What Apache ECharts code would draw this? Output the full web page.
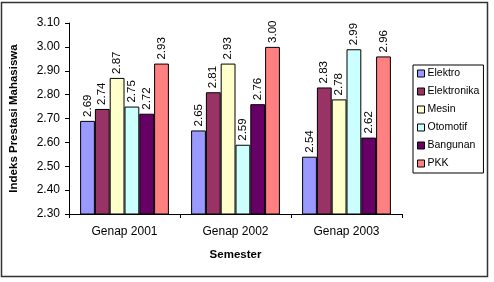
<!DOCTYPE html>
<html>
<head>
<meta charset="utf-8">
<script src="https://cdn.jsdelivr.net/npm/echarts@6/dist/echarts.min.js"></script>
<style>
  html, body { margin: 0; padding: 0; background: #fff; }
  #chart { width: 494px; height: 282px; }
</style>
</head>
<body>
<div id="chart"></div>
<script>
var semesters = ['Genap 2001', 'Genap 2002', 'Genap 2003'];
var jurusan = ['Elektro', 'Elektronika', 'Mesin', 'Otomotif', 'Bangunan', 'PKK'];
var elektro = [2.69, 2.65, 2.54];
var elektronika = [2.74, 2.81, 2.83];
var mesin = [2.87, 2.93, 2.78];
var otomotif = [2.75, 2.59, 2.99];
var bangunan = [2.72, 2.76, 2.62];
var pkk = [2.93, 3.00, 2.96];
var yTicks = [2.30, 2.40, 2.50, 2.60, 2.70, 2.80, 2.90, 3.00, 3.10];

var warna = ['#9999FF', '#993366', '#FFFFCC', '#CCFFFF', '#660066', '#FF8080'];
var nilai = [elektro, elektronika, mesin, otomotif, bangunan, pkk];
var font = 'Liberation Sans, Arial, sans-serif';

var myChart = echarts.init(document.getElementById('chart'));

var series = jurusan.map(function (nama, i) {
  return {
    name: nama,
    type: 'bar',
    barGap: 0,
    barCategoryGap: '20%',
    data: nilai[i],
    itemStyle: { color: warna[i], borderColor: '#000', borderWidth: 1 },
    label: {
      show: true,
      position: 'top',
      rotate: 90,
      align: 'left',
      verticalAlign: 'middle',
      distance: 4,
      fontFamily: font,
      fontSize: 11.5,
      color: '#000',
      formatter: function (p) { return p.value.toFixed(2); }
    }
  };
});

var option = {
  animation: false,
  color: warna,
  graphic: [{
    type: 'rect',
    shape: { x: 1.5, y: 2.5, width: 486, height: 274 },
    style: { fill: 'none', stroke: '#333', lineWidth: 1.5 },
    silent: true
  }],
  grid: { left: 67, right: 92, top: 23, bottom: 68 },
  legend: {
    orient: 'vertical',
    left: 413,
    top: 65,
    width: 70,
    padding: [3, 4, 4, 4],
    borderColor: '#000',
    borderWidth: 1,
    itemWidth: 7,
    itemHeight: 7,
    itemGap: 7,
    icon: 'rect',
    itemStyle: { borderColor: '#000', borderWidth: 1 },
    textStyle: { fontFamily: font, fontSize: 10.5, color: '#000', padding: [0, 0, 0, -2] },
    data: jurusan
  },
  xAxis: {
    type: 'category',
    data: semesters,
    name: 'Semester',
    nameLocation: 'middle',
    nameGap: 35,
    nameTextStyle: { fontFamily: font, fontSize: 11.5, fontWeight: 'bold', color: '#000' },
    axisLine: { lineStyle: { color: '#000' } },
    axisTick: { show: true, alignWithLabel: false, length: 4, lineStyle: { color: '#000' } },
    axisLabel: { fontFamily: font, fontSize: 12, color: '#000', margin: 12 }
  },
  yAxis: {
    type: 'value',
    min: yTicks[0],
    max: yTicks[yTicks.length - 1],
    interval: 0.1,
    name: 'Indeks Prestasi Mahasiswa',
    nameLocation: 'middle',
    nameRotate: 90,
    nameGap: 49,
    nameTextStyle: { fontFamily: font, fontSize: 11.5, fontWeight: 'bold', color: '#000' },
    splitLine: { show: false },
    axisLine: { show: true, lineStyle: { color: '#000' } },
    axisTick: { show: true, length: 4, lineStyle: { color: '#000' } },
    axisLabel: {
      fontFamily: font, fontSize: 12, color: '#000', margin: 9,
      formatter: function (v) { return v.toFixed(2); }
    }
  },
  series: series
};

myChart.setOption(option);
</script>
</body>
</html>
